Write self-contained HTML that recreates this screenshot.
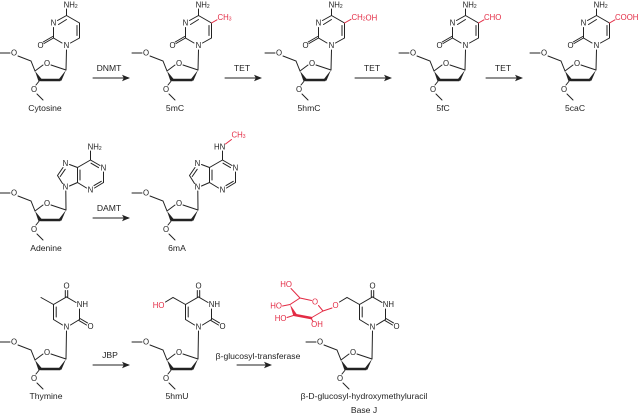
<!DOCTYPE html>
<html><head><meta charset="utf-8"><style>
html,body{margin:0;padding:0;background:#fff;}
svg{display:block;}
path,line{stroke:#222;stroke-width:1;fill:none;stroke-linecap:round;}
.f{fill:#222;stroke:none;}
.r path{stroke:#e32b44;}
.r text,text.r{fill:#e32b44;}
.r polygon{fill:#e32b44;}
text{font-family:"Liberation Sans",sans-serif;font-size:7.8px;text-anchor:middle;dominant-baseline:central;fill:#222;}
text.n{font-size:8.6px;}
text.s{text-anchor:start;}
text.e{text-anchor:end;}
</style></head><body>
<svg width="640" height="416" viewBox="0 0 640 416" xmlns="http://www.w3.org/2000/svg">

<!-- ===== ROW 1: cytosine family ===== -->
<g transform="translate(0,0)">
<path d="M0 53H10M18 56L31 61L35 71L43 65M51 65L66 70M40 80L36 85M37 94L43 100"/>
<path d="M41 80H59.5" style="stroke-width:2.6"/>
<polygon class="f" points="35,71 38.4,81 41.6,79"/><polygon class="f" points="66,70 58.8,79.3 61.4,80.8"/>
<text x="14" y="53">O</text><text x="47" y="63.5">O</text><text x="34" y="89.5">O</text>
<path d="M66.5 50L66 70M62 43L53.5 38L53.5 27.5M57.5 20.5L66.5 15.5L66.5 9M66.5 15.5L79.5 23L79.5 38L70.5 43M77 25.5V35.5M58.5 24.5L66.5 19.5M53.5 38L44 43.5M52.7 36.5L43.2 42"/>
<text x="66.5" y="45.5">N</text><text x="53.5" y="23">N</text><text x="40.5" y="45.5">O</text>
<text class="s" x="63.6" y="5">NH<tspan font-size="5" dy="1.8">2</tspan></text>
</g>
<text class="n" x="45" y="108">Cytosine</text>

<g transform="translate(132,0)">
<path d="M0 53H10M18 56L31 61L35 71L43 65M51 65L66 70M40 80L36 85M37 94L43 100"/>
<path d="M41 80H59.5" style="stroke-width:2.6"/>
<polygon class="f" points="35,71 38.4,81 41.6,79"/><polygon class="f" points="66,70 58.8,79.3 61.4,80.8"/>
<text x="14" y="53">O</text><text x="47" y="63.5">O</text><text x="34" y="89.5">O</text>
<path d="M66.5 50L66 70M62 43L53.5 38L53.5 27.5M57.5 20.5L66.5 15.5L66.5 9M66.5 15.5L79.5 23L79.5 38L70.5 43M77 25.5V35.5M58.5 24.5L66.5 19.5M53.5 38L44 43.5M52.7 36.5L43.2 42"/>
<text x="66.5" y="45.5">N</text><text x="53.5" y="23">N</text><text x="40.5" y="45.5">O</text>
<text class="s" x="63.6" y="5">NH<tspan font-size="5" dy="1.8">2</tspan></text>
<g class="r"><path d="M79.5 23L85 19.8"/><text class="s" x="85.5" y="17.5">CH<tspan font-size="5" dy="1.8">3</tspan></text></g>
</g>
<text class="n" x="175" y="108">5mC</text>

<g transform="translate(265,0)">
<path d="M0 53H10M18 56L31 61L35 71L43 65M51 65L66 70M40 80L36 85M37 94L43 100"/>
<path d="M41 80H59.5" style="stroke-width:2.6"/>
<polygon class="f" points="35,71 38.4,81 41.6,79"/><polygon class="f" points="66,70 58.8,79.3 61.4,80.8"/>
<text x="14" y="53">O</text><text x="47" y="63.5">O</text><text x="34" y="89.5">O</text>
<path d="M66.5 50L66 70M62 43L53.5 38L53.5 27.5M57.5 20.5L66.5 15.5L66.5 9M66.5 15.5L79.5 23L79.5 38L70.5 43M77 25.5V35.5M58.5 24.5L66.5 19.5M53.5 38L44 43.5M52.7 36.5L43.2 42"/>
<text x="66.5" y="45.5">N</text><text x="53.5" y="23">N</text><text x="40.5" y="45.5">O</text>
<text class="s" x="63.6" y="5">NH<tspan font-size="5" dy="1.8">2</tspan></text>
<g class="r"><path d="M79.5 23L86 19.3"/><text class="s" x="86.5" y="17.5">CH<tspan font-size="5" dy="1.8">2</tspan><tspan dy="-1.8">OH</tspan></text></g>
</g>
<text class="n" x="309" y="108">5hmC</text>

<g transform="translate(399,0)">
<path d="M0 53H10M18 56L31 61L35 71L43 65M51 65L66 70M40 80L36 85M37 94L43 100"/>
<path d="M41 80H59.5" style="stroke-width:2.6"/>
<polygon class="f" points="35,71 38.4,81 41.6,79"/><polygon class="f" points="66,70 58.8,79.3 61.4,80.8"/>
<text x="14" y="53">O</text><text x="47" y="63.5">O</text><text x="34" y="89.5">O</text>
<path d="M66.5 50L66 70M62 43L53.5 38L53.5 27.5M57.5 20.5L66.5 15.5L66.5 9M66.5 15.5L79.5 23L79.5 38L70.5 43M77 25.5V35.5M58.5 24.5L66.5 19.5M53.5 38L44 43.5M52.7 36.5L43.2 42"/>
<text x="66.5" y="45.5">N</text><text x="53.5" y="23">N</text><text x="40.5" y="45.5">O</text>
<text class="s" x="63.6" y="5">NH<tspan font-size="5" dy="1.8">2</tspan></text>
<g class="r"><path d="M79.5 23L85 19.8"/><text class="s" x="85" y="17.5">CHO</text></g>
</g>
<text class="n" x="443" y="108">5fC</text>

<g transform="translate(530,0)">
<path d="M0 53H10M18 56L31 61L35 71L43 65M51 65L66 70M40 80L36 85M37 94L43 100"/>
<path d="M41 80H59.5" style="stroke-width:2.6"/>
<polygon class="f" points="35,71 38.4,81 41.6,79"/><polygon class="f" points="66,70 58.8,79.3 61.4,80.8"/>
<text x="14" y="53">O</text><text x="47" y="63.5">O</text><text x="34" y="89.5">O</text>
<path d="M66.5 50L66 70M62 43L53.5 38L53.5 27.5M57.5 20.5L66.5 15.5L66.5 9M66.5 15.5L79.5 23L79.5 38L70.5 43M77 25.5V35.5M58.5 24.5L66.5 19.5M53.5 38L44 43.5M52.7 36.5L43.2 42"/>
<text x="66.5" y="45.5">N</text><text x="53.5" y="23">N</text><text x="40.5" y="45.5">O</text>
<text class="s" x="63.6" y="5">NH<tspan font-size="5" dy="1.8">2</tspan></text>
<g class="r"><path d="M79.5 23L85 19.8"/><text class="s" x="85" y="17.5">COOH</text></g>
</g>
<text class="n" x="575" y="108">5caC</text>

<path d="M93 78H124"/><polygon class="f" points="130,78 122,74.8 123.8,78 122,81.2"/>
<text class="n" x="109" y="68">DNMT</text>
<path d="M225 78H256"/><polygon class="f" points="262,78 254,74.8 255.8,78 254,81.2"/>
<text class="n" x="242" y="68">TET</text>
<path d="M355 78H386"/><polygon class="f" points="392,78 384,74.8 385.8,78 384,81.2"/>
<text class="n" x="372" y="68">TET</text>
<path d="M486 78H517"/><polygon class="f" points="523,78 515,74.8 516.8,78 515,81.2"/>
<text class="n" x="503" y="68">TET</text>

<!-- ===== ROW 2 ===== -->
<g transform="translate(0,140)">
<path d="M0 53H10M18 56L31 61L35 71L43 65M51 65L66 70M40 80L36 85M37 94L43 100"/>
<path d="M41 80H59.5" style="stroke-width:2.6"/>
<polygon class="f" points="35,71 38.4,81 41.6,79"/><polygon class="f" points="66,70 58.8,79.3 61.4,80.8"/>
<text x="14" y="53">O</text><text x="47" y="63.5">O</text><text x="34" y="89.5">O</text>
</g>
<path d="M90.5 151V160L100 165.5M91 163.2L98.5 167.6M103.5 172V182.5L94.5 188M101.3 181.3L94 185.6M86.5 188L77.5 182.5V167.5L90.5 160M80 180V170M77.5 167.5L69.5 164.5M63 167.5L57.5 175.5M65.2 169.3L60.2 176.5M57.5 175.5L62.5 183.5M69.5 186L77.5 182.5M65.8 191L66 210"/>
<text x="103.5" y="168">N</text><text x="90.5" y="190">N</text><text x="65.5" y="163.5">N</text><text x="65.5" y="187">N</text>
<text class="s" x="87.6" y="147">NH<tspan font-size="5" dy="1.8">2</tspan></text>
<text class="n" x="46" y="248">Adenine</text>

<g transform="translate(132,140)">
<path d="M0 53H10M18 56L31 61L35 71L43 65M51 65L66 70M40 80L36 85M37 94L43 100"/>
<path d="M41 80H59.5" style="stroke-width:2.6"/>
<polygon class="f" points="35,71 38.4,81 41.6,79"/><polygon class="f" points="66,70 58.8,79.3 61.4,80.8"/>
<text x="14" y="53">O</text><text x="47" y="63.5">O</text><text x="34" y="89.5">O</text>
</g>
<g transform="translate(132,0)">
<path d="M90.5 151V160L100 165.5M91 163.2L98.5 167.6M103.5 172V182.5L94.5 188M101.3 181.3L94 185.6M86.5 188L77.5 182.5V167.5L90.5 160M80 180V170M77.5 167.5L69.5 164.5M63 167.5L57.5 175.5M65.2 169.3L60.2 176.5M57.5 175.5L62.5 183.5M69.5 186L77.5 182.5M65.8 191L66 210"/>
<text x="103.5" y="168">N</text><text x="90.5" y="190">N</text><text x="65.5" y="163.5">N</text><text x="65.5" y="187">N</text>
<text class="e" x="93.3" y="147">HN</text>
<g class="r"><path d="M93.5 144L99.5 139.5"/><text class="s" x="99.5" y="135">CH<tspan font-size="5" dy="1.8">3</tspan></text></g>
</g>
<text class="n" x="177" y="248">6mA</text>

<path d="M93 218H124"/><polygon class="f" points="130,218 122,214.8 123.8,218 122,221.2"/>
<text class="n" x="109" y="208">DAMT</text>

<!-- ===== ROW 3 ===== -->
<g transform="translate(0,289)">
<path d="M0 53H10M18 56L31 61L35 71L43 65M51 65L66 70M40 80L36 85M37 94L43 100"/>
<path d="M41 80H59.5" style="stroke-width:2.6"/>
<polygon class="f" points="35,71 38.4,81 41.6,79"/><polygon class="f" points="66,70 58.8,79.3 61.4,80.8"/>
<text x="14" y="53">O</text><text x="47" y="63.5">O</text><text x="34" y="89.5">O</text>
</g>
<g>
<path d="M66.5 331L66 359M70.5 325L79.5 319.5L79.5 309M76 302.5L66.5 297L53.5 304.5L53.5 319.5L62.5 325M56.2 307V317M65.3 297V290.5M67.7 297V290.5M79 320.6L86.5 325M80 318.5L87.5 322.9M53.5 304.5L41 297.5"/>
<text x="66.5" y="286">O</text><text class="s" x="76.8" y="304.5">NH</text><text x="90.5" y="326.5">O</text><text x="66.5" y="327">N</text>
</g>
<text class="n" x="46" y="396">Thymine</text>

<g transform="translate(132,289)">
<path d="M0 53H10M18 56L31 61L35 71L43 65M51 65L66 70M40 80L36 85M37 94L43 100"/>
<path d="M41 80H59.5" style="stroke-width:2.6"/>
<polygon class="f" points="35,71 38.4,81 41.6,79"/><polygon class="f" points="66,70 58.8,79.3 61.4,80.8"/>
<text x="14" y="53">O</text><text x="47" y="63.5">O</text><text x="34" y="89.5">O</text>
</g>
<g transform="translate(132,0)">
<path d="M66.5 331L66 359M70.5 325L79.5 319.5L79.5 309M76 302.5L66.5 297L53.5 304.5L53.5 319.5L62.5 325M56.2 307V317M65.3 297V290.5M67.7 297V290.5M79 320.6L86.5 325M80 318.5L87.5 322.9M53.5 304.5L41 297.5L33.5 302"/>
<text x="66.5" y="286">O</text><text class="s" x="76.8" y="304.5">NH</text><text x="90.5" y="326.5">O</text><text x="66.5" y="327">N</text>
<text class="e r" x="32.5" y="305.5">HO</text>
</g>
<text class="n" x="177" y="396">5hmU</text>

<g transform="translate(306,289)">
<path d="M0 53H10M18 56L31 61L35 71L43 65M51 65L66 70M40 80L36 85M37 94L43 100"/>
<path d="M41 80H59.5" style="stroke-width:2.6"/>
<polygon class="f" points="35,71 38.4,81 41.6,79"/><polygon class="f" points="66,70 58.8,79.3 61.4,80.8"/>
<text x="14" y="53">O</text><text x="47" y="63.5">O</text><text x="34" y="89.5">O</text>
</g>
<g transform="translate(306,0)">
<path d="M66.5 331L66 359M70.5 325L79.5 319.5L79.5 309M76 302.5L66.5 297L53.5 304.5L53.5 319.5L62.5 325M56.2 307V317M65.3 297V290.5M67.7 297V290.5M79 320.6L86.5 325M80 318.5L87.5 322.9M53.5 304.5L41 297.5L33.5 302"/>
<text x="66.5" y="286">O</text><text class="s" x="76.8" y="304.5">NH</text><text x="90.5" y="326.5">O</text><text x="66.5" y="327">N</text>
</g>
<g class="r">
<text x="335.5" y="305.5">O</text>
<path d="M332 308L323 311L318.5 305.5M311.5 300.5L300 298L291 288.5M300 298L290 304.5L282.5 306M295 315L287 317.5M311 318L313 321.5M311 318L323 311"/>
<path d="M295 315L311 318" style="stroke-width:2.6"/>
<polygon points="290,304.5 293.4,316 296.6,314"/>
<text x="315" y="302">O</text>
<text class="e" x="292" y="284.5">HO</text>
<text class="e" x="282" y="306">HO</text>
<text class="e" x="286.5" y="318.5">HO</text>
<text x="317" y="324.5">OH</text>
</g>
<text class="n" x="364" y="396">β-D-glucosyl-hydroxymethyluracil</text>
<text class="n" x="364" y="410">Base J</text>

<path d="M93 365H124"/><polygon class="f" points="130,365 122,361.8 123.8,365 122,368.2"/>
<text class="n" x="110" y="355">JBP</text>
<path d="M237 365H266"/><polygon class="f" points="272,365 264,361.8 265.8,365 264,368.2"/>
<text class="n" x="258" y="356">β-glucosyl-transferase</text>

</svg>
</body></html>
